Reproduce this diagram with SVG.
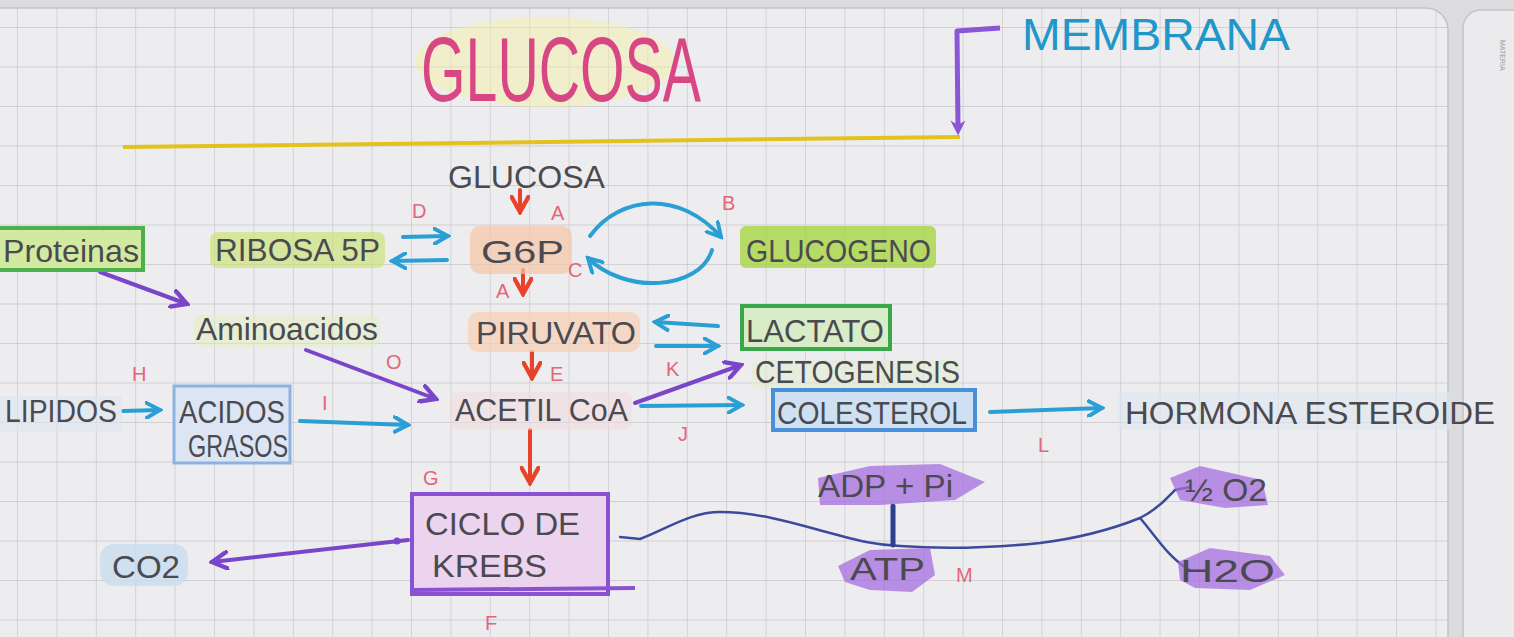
<svg xmlns="http://www.w3.org/2000/svg" width="1514" height="637" viewBox="0 0 1514 637">
<defs>
<style>
.t{font-family:"Liberation Sans","DejaVu Sans",sans-serif;fill:#4a4a50;font-size:32px}
.lb{font-family:"Liberation Sans","DejaVu Sans",sans-serif;fill:#e2657a;font-size:20px}
.red{stroke:#e8432a;stroke-width:4;fill:none;stroke-linecap:round}
.blue{stroke:#2a9fd6;stroke-width:4;fill:none;stroke-linecap:round}
.pur{stroke:#7a45c8;stroke-width:4;fill:none;stroke-linecap:round}
.navy{stroke:#3b4a9c;stroke-width:2.5;fill:none;stroke-linecap:round}
.hl{opacity:.7}
.scr{fill:#a56ee0;opacity:.75}
</style>
<pattern id="grid" patternUnits="userSpaceOnUse" x="17" y="27" width="39.4" height="39.5">
<path d="M0,0 V39.5 M0,0 H39.4" fill="none" stroke="#c6c6cb" stroke-width="1.3"/>
</pattern>
<marker id="mr" viewBox="0 0 12 12" refX="10" refY="6" markerWidth="20" markerHeight="20" markerUnits="userSpaceOnUse" orient="auto"><path d="M1,1 L10,6 L1,11" fill="none" stroke="#e8432a" stroke-width="2.6" stroke-linecap="round"/></marker>
<marker id="mb" viewBox="0 0 12 12" refX="10" refY="6" markerWidth="18" markerHeight="18" markerUnits="userSpaceOnUse" orient="auto"><path d="M1,1 L10,6 L1,11" fill="none" stroke="#2a9fd6" stroke-width="2.6" stroke-linecap="round"/></marker>
<marker id="mp" viewBox="0 0 12 12" refX="10" refY="6" markerWidth="20" markerHeight="20" markerUnits="userSpaceOnUse" orient="auto"><path d="M1,1 L10,6 L1,11" fill="none" stroke="#7a45c8" stroke-width="2.6" stroke-linecap="round"/></marker>
<marker id="mpf" viewBox="0 0 12 12" refX="6" refY="6" markerWidth="18" markerHeight="18" markerUnits="userSpaceOnUse" orient="auto"><path d="M1,1 L11,6 L1,11 L4,6 Z" fill="#8a55d6"/></marker>
</defs>

<rect x="0" y="0" width="1514" height="637" fill="#dcdcdf"/>
<rect x="-20" y="8" width="1468" height="700" rx="22" fill="#ededef" stroke="#c4c4c8" stroke-width="1.5"/>
<rect x="-20" y="8" width="1468" height="700" rx="22" fill="url(#grid)"/>
<rect x="1463" y="10" width="80" height="700" rx="18" fill="#ebebed" stroke="#c4c4c8" stroke-width="1.5"/>
<text x="1500" y="40" transform="rotate(90 1500 40)" font-family="Liberation Sans, sans-serif" font-size="7" fill="#9a9aa0">MATERIA</text>

<g id="connectors">
<path d="M123,147 L960,137" stroke="#e4c21c" stroke-width="4" fill="none"/>
<path d="M1000,28 L957,31 L958,128" stroke="#8a55d6" stroke-width="5" fill="none" stroke-linejoin="round" marker-end="url(#mpf)"/>
<path class="red" d="M520,190 L520,212" marker-end="url(#mr)"/>
<path class="red" d="M523,270 L523,294" marker-end="url(#mr)"/>
<path class="red" d="M532,352 L532,378" marker-end="url(#mr)"/>
<path class="red" d="M530,430 L530,483" marker-end="url(#mr)"/>
<path class="blue" d="M403,237 L448,236" marker-end="url(#mb)"/>
<path class="blue" d="M447,260 L392,261" marker-end="url(#mb)"/>
<path class="blue" d="M590,236 C620,195 680,190 721,237" marker-end="url(#mb)"/>
<path class="blue" d="M712,250 C700,290 625,295 588,258" marker-end="url(#mb)"/>
<path class="blue" d="M718,326 L655,322" marker-end="url(#mb)"/>
<path class="blue" d="M656,346 L718,346" marker-end="url(#mb)"/>
<path class="blue" d="M123,411 L160,410" marker-end="url(#mb)"/>
<path class="blue" d="M300,421 L408,425" marker-end="url(#mb)"/>
<path class="blue" d="M641,406 L742,405" marker-end="url(#mb)"/>
<path class="blue" d="M990,412 L1102,408" marker-end="url(#mb)"/>
<path class="pur" d="M100,272 L187,304" marker-end="url(#mp)"/>
<path class="pur" d="M306,350 L436,399" marker-end="url(#mp)"/>
<path class="pur" d="M635,403 L741,365" marker-end="url(#mp)"/>
<path class="pur" d="M408,540 L212,562" marker-end="url(#mp)"/>
<circle cx="397" cy="541" r="3.5" fill="#7a45c8"/>
<path class="navy" d="M620,537 L640,539 C665,530 690,512 720,512 C760,512 800,525 830,533 C850,538 870,545 900,546 C940,549 990,548 1040,543 C1080,538 1110,530 1140,518 C1160,508 1170,495 1175,490 L1190,487"/>
<path class="navy" d="M1140,518 C1155,535 1170,560 1190,570"/>
<path d="M893,506 L893,545" stroke="#2f3f8f" stroke-width="5" stroke-linecap="round"/>
</g>

<g id="title">
<ellipse cx="545" cy="62" rx="130" ry="45" fill="#f4f0a0" opacity="0.45"/>
<text x="421" y="101" font-family="Liberation Sans, DejaVu Sans, sans-serif" font-size="90" fill="#d94684" textLength="280" lengthAdjust="spacingAndGlyphs">GLUCOSA</text>
</g>
<g id="membrana">
<text x="1022" y="50" font-family="Liberation Sans, DejaVu Sans, sans-serif" font-size="44" fill="#2196c9" textLength="268" lengthAdjust="spacingAndGlyphs">MEMBRANA</text>
</g>

<g id="glucosa">
<text class="t" x="448" y="188" font-size="38" textLength="157" lengthAdjust="spacingAndGlyphs">GLUCOSA</text>
</g>
<g id="g6p">
<rect x="470" y="226" width="102" height="48" rx="10" fill="#f5c4a5" class="hl"/>
<text class="t" x="481" y="263" font-size="36" textLength="83" lengthAdjust="spacingAndGlyphs">G6P</text>
</g>
<g id="ribosa">
<rect x="210" y="232" width="175" height="36" rx="8" fill="#cde27a" class="hl"/>
<text class="t" x="215" y="261" textLength="165" lengthAdjust="spacingAndGlyphs">RIBOSA 5P</text>
</g>
<g id="proteinas">
<rect x="-2" y="228" width="145" height="42" fill="#d2eaa0" stroke="#4cb04c" stroke-width="4"/>
<text class="t" x="3" y="262" textLength="136" lengthAdjust="spacingAndGlyphs">Proteinas</text>
</g>
<g id="glucogeno">
<rect x="740" y="226" width="196" height="42" rx="6" fill="#a6d443" opacity="0.8"/>
<text class="t" x="746" y="262" textLength="185" lengthAdjust="spacingAndGlyphs">GLUCOGENO</text>
</g>
<g id="piruvato">
<rect x="468" y="312" width="172" height="40" rx="10" fill="#f6cdb2" class="hl"/>
<text class="t" x="476" y="344" textLength="160" lengthAdjust="spacingAndGlyphs">PIRUVATO</text>
</g>
<g id="lactato">
<rect x="742" y="306" width="148" height="43" fill="#d8ecc8" stroke="#3aa84a" stroke-width="4"/>
<text class="t" x="746" y="342" textLength="138" lengthAdjust="spacingAndGlyphs">LACTATO</text>
</g>
<g id="aminoacidos">
<rect x="194" y="315" width="186" height="32" rx="8" fill="#e4eebb" opacity="0.5"/>
<text class="t" x="196" y="340" font-size="30" textLength="182" lengthAdjust="spacingAndGlyphs">Aminoacidos</text>
</g>
<g id="cetogenesis">
<rect x="752" y="360" width="208" height="30" rx="6" fill="#e3ecd0" opacity="0.6"/>
<text class="t" x="755" y="383" font-size="30" textLength="205" lengthAdjust="spacingAndGlyphs">CETOGENESIS</text>
</g>
<g id="acetilcoa">
<rect x="450" y="392" width="182" height="38" rx="8" fill="#f3d9de" opacity="0.5"/>
<text class="t" x="455" y="421" font-size="34" textLength="173" lengthAdjust="spacingAndGlyphs">ACETIL CoA</text>
</g>
<g id="colesterol">
<rect x="773" y="390" width="202" height="40" fill="#cfe0f3" stroke="#4a8fd9" stroke-width="4"/>
<text class="t" x="777" y="424" textLength="190" lengthAdjust="spacingAndGlyphs">COLESTEROL</text>
</g>
<g id="hormona">
<rect x="1118" y="392" width="332" height="38" fill="#dde4ef" opacity="0.6"/>
<text class="t" x="1125" y="424" textLength="370" lengthAdjust="spacingAndGlyphs">HORMONA  ESTEROIDE</text>
</g>
<g id="lipidos">
<rect x="0" y="396" width="122" height="36" fill="#dde4ef" opacity="0.6"/>
<text class="t" x="5" y="422" font-size="28" textLength="112" lengthAdjust="spacingAndGlyphs">LIPIDOS</text>
</g>
<g id="acidosgrasos">
<rect x="174" y="386" width="116" height="77" fill="#dbe5f3" stroke="#8fb1e0" stroke-width="3"/>
<text class="t" x="179" y="423" font-size="28" textLength="106" lengthAdjust="spacingAndGlyphs">ACIDOS</text>
<text class="t" x="188" y="457" font-size="22" textLength="100" lengthAdjust="spacingAndGlyphs">GRASOS</text>
</g>
<g id="krebs">
<rect x="412" y="494" width="196" height="100" fill="#ecd4ee" stroke="#8a52d2" stroke-width="4"/>
<path d="M412,590 L635,588" stroke="#8a52d2" stroke-width="4"/>
<text class="t" x="425" y="535" textLength="155" lengthAdjust="spacingAndGlyphs">CICLO DE</text>
<text class="t" x="432" y="577" textLength="115" lengthAdjust="spacingAndGlyphs">KREBS</text>
</g>
<g id="co2">
<rect x="100" y="544" width="88" height="42" rx="14" fill="#c8dcef" opacity="0.8"/>
<text class="t" x="112" y="578" textLength="68" lengthAdjust="spacingAndGlyphs">CO2</text>
</g>
<g id="adp">
<polygon class="scr" points="818,478 870,466 940,464 985,482 955,500 880,505 820,505"/>
<text class="t" x="818" y="497" font-size="30" textLength="135" lengthAdjust="spacingAndGlyphs">ADP + Pi</text>
</g>
<g id="atp">
<polygon class="scr" points="838,566 870,550 930,548 935,575 912,592 870,590 845,582"/>
<text class="t" x="850" y="580" font-size="30" textLength="75" lengthAdjust="spacingAndGlyphs">ATP</text>
</g>
<g id="o2">
<polygon class="scr" points="1170,478 1200,466 1262,480 1268,505 1225,508 1180,500"/>
<text class="t" x="1185" y="501" font-size="30" textLength="82" lengthAdjust="spacingAndGlyphs">½ O2</text>
</g>
<g id="h2o">
<polygon class="scr" points="1178,562 1210,548 1270,556 1285,575 1250,590 1195,588 1180,580"/>
<text class="t" x="1180" y="582" textLength="95" lengthAdjust="spacingAndGlyphs">H2O</text>
</g>

<g id="labels">
<text class="lb" x="412" y="218">D</text>
<text class="lb" x="551" y="220">A</text>
<text class="lb" x="722" y="210">B</text>
<text class="lb" x="568" y="277">C</text>
<text class="lb" x="496" y="298">A</text>
<text class="lb" x="550" y="381">E</text>
<text class="lb" x="666" y="376">K</text>
<text class="lb" x="386" y="369">O</text>
<text class="lb" x="132" y="381">H</text>
<text class="lb" x="322" y="410">I</text>
<text class="lb" x="678" y="441">J</text>
<text class="lb" x="1038" y="452">L</text>
<text class="lb" x="423" y="485">G</text>
<text class="lb" x="485" y="630">F</text>
<text class="lb" x="956" y="582">M</text>
</g>
</svg>
